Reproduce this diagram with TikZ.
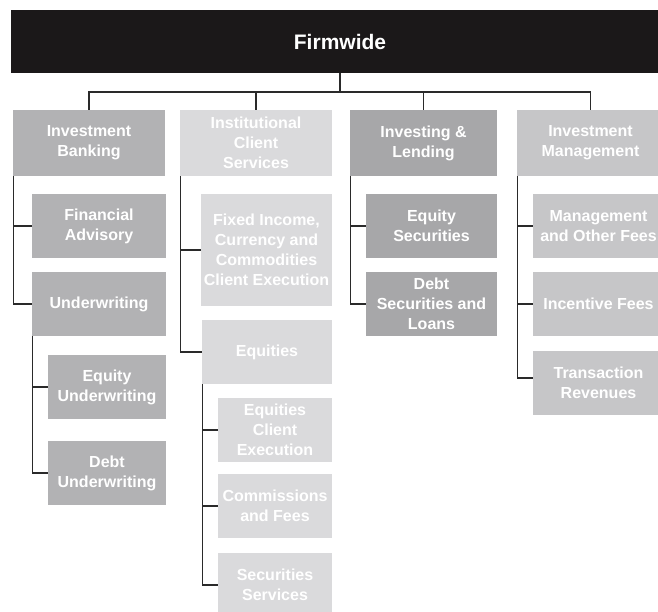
\documentclass[tikz,border=0pt]{standalone}
\usepackage{fontspec}
\setmainfont{Liberation Sans}
\begin{document}
\begin{tikzpicture}[x=1pt,y=-1pt,
  box/.style={draw=none,inner sep=0pt,align=center,text=white,
    font=\bfseries\fontsize{16}{20}\selectfont},
  cib/.style={box,fill=ibgray},
  cics/.style={box,fill=icsgray},
  cil/.style={box,fill=ilgray},
  cim/.style={box,fill=imgray},
  conn/.style={draw=linegray,line width=1.3pt}]
\definecolor{ibgray}{HTML}{B2B2B4}
\definecolor{icsgray}{HTML}{DADADC}
\definecolor{ilgray}{HTML}{A7A7A9}
\definecolor{imgray}{HTML}{C6C6C8}
\definecolor{linegray}{HTML}{2A2A2A}
\definecolor{topblack}{HTML}{1B1819}
\useasboundingbox (0,0) rectangle (658,611);
% top
\node[fill=topblack,inner sep=0pt,minimum width=653,minimum height=63] (firm) at (337.5,41.5) {};
\node[text=white,font=\bfseries\fontsize{21}{24}\selectfont,inner sep=0pt] (firmtxt) at (340,42) {Firmwide};
% level 1
\node[cib,minimum width=152,minimum height=66] (ib) at (89,143) {Investment\\Banking};
\node[cics,minimum width=152,minimum height=66] (ics) at (256,143) {Institutional\\Client\\Services};
\node[cil,minimum width=147,minimum height=66] (il) at (423.5,143) {Investing \&\\Lending};
\node[cim,minimum width=147,minimum height=66] (im) at (590.5,143) {Investment\\Management};
% IB children
\node[cib,minimum width=134,minimum height=64] (fa) at (99,226) {Financial\\Advisory};
\node[cib,minimum width=134,minimum height=64] (uw) at (99,304) {Underwriting};
\node[cib,minimum width=118,minimum height=64] (eu) at (107,387) {Equity\\Underwriting};
\node[cib,minimum width=118,minimum height=64] (du) at (107,473) {Debt\\Underwriting};
% ICS children
\node[cics,minimum width=131,minimum height=112] (ficc) at (266.5,250) {Fixed Income,\\Currency and\\Commodities\\Client Execution};
\node[cics,minimum width=130,minimum height=64] (eq) at (267,352) {Equities};
\node[cics,minimum width=114,minimum height=64] (ece) at (275,430) {Equities\\Client\\Execution};
\node[cics,minimum width=114,minimum height=64] (cf) at (275,506) {Commissions\\and Fees};
\node[cics,minimum width=114,minimum height=64] (ss) at (275,585) {Securities\\Services};
% I&L children
\node[cil,minimum width=131,minimum height=64] (es) at (431.5,226) {Equity\\Securities};
\node[cil,minimum width=131,minimum height=64] (dsl) at (431.5,304) {Debt\\Securities and\\Loans};
% IM children
\node[cim,minimum width=131,minimum height=64] (mof) at (598.5,226) {Management\\and Other Fees};
\node[cim,minimum width=131,minimum height=64] (inc) at (598.5,304) {Incentive Fees};
\node[cim,minimum width=131,minimum height=64] (tr) at (598.5,382.5) {Transaction\\Revenues};
% connectors
\coordinate (hub) at (340,92);
\draw[conn] (firm.south -| firmtxt.center) -- (hub);
\draw[conn] (hub) -| (ib.north);
\draw[conn] (hub) -| (ics.north);
\draw[conn] (hub) -| (il.north);
\draw[conn] (hub) -| (im.north);
\draw[conn] ([xshift=1]ib.south west) |- (fa.west);
\draw[conn] ([xshift=1]ib.south west) |- (uw.west);
\draw[conn] ([xshift=1]uw.south west) |- (eu.west);
\draw[conn] ([xshift=1]uw.south west) |- (du.west);
\draw[conn] ([xshift=1]ics.south west) |- (ficc.west);
\draw[conn] ([xshift=1]ics.south west) |- (eq.west);
\draw[conn] ([xshift=1]eq.south west) |- (ece.west);
\draw[conn] ([xshift=1]eq.south west) |- (cf.west);
\draw[conn] ([xshift=1]eq.south west) |- (ss.west);
\draw[conn] ([xshift=1]il.south west) |- (es.west);
\draw[conn] ([xshift=1]il.south west) |- (dsl.west);
\draw[conn] ([xshift=1]im.south west) |- (mof.west);
\draw[conn] ([xshift=1]im.south west) |- (inc.west);
\draw[conn] ([xshift=1]im.south west) |- ([yshift=4.5]tr.west);
\end{tikzpicture}
\end{document}
